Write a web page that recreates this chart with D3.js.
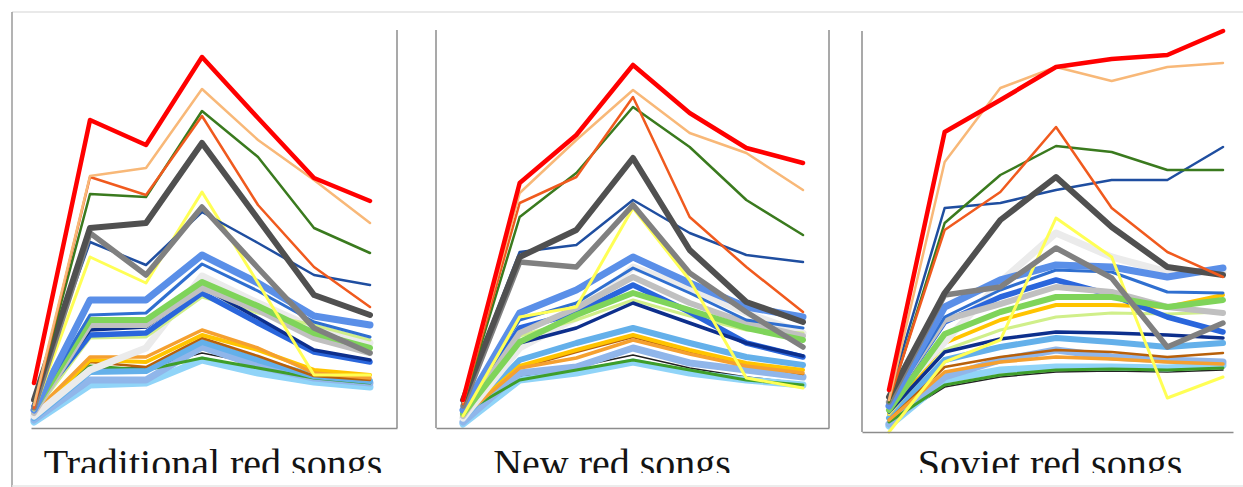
<!DOCTYPE html>
<html lang="en">
<head>
<meta charset="UTF-8">
<title>Red songs</title>
<script src="https://cdn.jsdelivr.net/npm/d3@7"></script>
<style>
  body { margin: 0; background: #fff; }
  svg { display: block; }
</style>
</head>
<body>
<svg id="chart" width="1243" height="487"></svg>
<script>
// seven stages along x, no tick labels shown
const stages = ["1", "2", "3", "4", "5", "6", "7"];

const panelTitles = ["Traditional red songs", "New red songs", "Soviet red songs"];

// series styles (shared by the three panels)
const seriesColors = [
  "#ff0000", "#f8b878", "#f05a1e", "#3a7a1e", "#505050", "#808080",
  "#1f4ea0", "#ffff55", "#5a8fe8", "#2f6fd0", "#7fd45a", "#c0c0c0",
  "#0d2f8c", "#2a66dc", "#d0ef8a", "#ebebeb", "#f5a030", "#ffc400",
  "#b8600a", "#64b0ea", "#3e9e2a", "#90b6ea", "#90d4f8", "#222222"
];
const seriesWidths = [
  4.5, 2.5, 2.5, 2.5, 6, 5.5,
  2.5, 3, 7, 3, 6, 6,
  3.5, 5.5, 3, 7, 3.5, 4,
  2.5, 6, 3, 7, 7, 1.5
];

// values per panel, one row per series
const traditional = [
  [45, 308, 283, 371, 310, 250, 227],
  [23, 252, 260, 339, 288, 248, 205],
  [20, 251, 233, 312, 223, 161, 121],
  [23, 234, 231, 317, 271, 200, 175],
  [28, 200, 205, 285, 209, 133, 113],
  [20, 195, 153, 221, 160, 100, 75],
  [30, 186, 163, 216, 185, 153, 143],
  [18, 171, 145, 236, 145, 53, 53],
  [18, 128, 128, 173, 145, 112, 103],
  [20, 113, 115, 164, 137, 106, 91],
  [18, 108, 108, 146, 122, 95, 80],
  [15, 103, 103, 140, 118, 90, 75],
  [24, 98, 101, 141, 110, 78, 68],
  [22, 93, 95, 135, 105, 76, 66],
  [15, 90, 91, 131, 115, 103, 88],
  [12, 58, 80, 152, 125, 100, 85],
  [15, 71, 71, 98, 80, 55, 50],
  [13, 68, 66, 93, 78, 58, 53],
  [16, 66, 61, 90, 72, 52, 48],
  [10, 56, 57, 86, 68, 52, 47],
  [14, 62, 58, 70, 60, 50, 45],
  [8, 48, 48, 81, 62, 50, 45],
  [6, 43, 45, 68, 55, 46, 41],
  [12, 60, 60, 75, 64, 52, 48]
];

const newSongs = [
  [28, 245, 293, 363, 315, 280, 265],
  [26, 235, 288, 338, 295, 275, 238],
  [24, 225, 251, 331, 211, 161, 116],
  [24, 211, 255, 321, 281, 228, 193],
  [28, 171, 198, 270, 178, 126, 106],
  [22, 166, 161, 223, 155, 116, 81],
  [30, 176, 183, 228, 195, 173, 166],
  [12, 111, 121, 220, 148, 50, 40],
  [18, 115, 138, 171, 145, 121, 111],
  [20, 108, 125, 160, 135, 108, 100],
  [14, 86, 113, 135, 118, 100, 88],
  [12, 95, 120, 151, 125, 105, 92],
  [26, 85, 100, 125, 105, 85, 72],
  [16, 100, 115, 143, 116, 85, 71],
  [12, 92, 108, 128, 112, 98, 95],
  [10, 80, 110, 161, 140, 115, 95],
  [12, 60, 70, 88, 74, 62, 55],
  [12, 62, 78, 93, 78, 65, 58],
  [14, 60, 76, 91, 76, 64, 54],
  [10, 68, 85, 100, 85, 71, 63],
  [15, 48, 58, 68, 58, 48, 43],
  [6, 55, 61, 80, 65, 58, 51],
  [4, 48, 55, 66, 55, 48, 43],
  [16, 51, 61, 73, 60, 51, 45]
];

const soviet = [
  [42, 300, 332, 365, 373, 377, 401],
  [32, 270, 344, 365, 351, 365, 369],
  [32, 202, 240, 305, 224, 180, 155],
  [30, 209, 257, 286, 280, 262, 262],
  [35, 139, 212, 255, 205, 165, 157],
  [30, 137, 145, 184, 154, 85, 109],
  [36, 224, 229, 242, 252, 252, 285],
  [0, 70, 92, 214, 175, 34, 55],
  [26, 125, 152, 167, 165, 155, 164],
  [26, 115, 142, 162, 160, 140, 139],
  [22, 98, 120, 135, 135, 125, 132],
  [30, 112, 128, 145, 140, 125, 119],
  [20, 80, 93, 100, 99, 97, 94],
  [28, 110, 135, 152, 137, 115, 100],
  [18, 82, 102, 115, 119, 118, 120],
  [30, 90, 150, 199, 175, 160, 160],
  [12, 60, 70, 75, 73, 70, 68],
  [18, 89, 112, 127, 127, 125, 137],
  [12, 65, 75, 82, 80, 75, 79],
  [14, 72, 85, 94, 90, 85, 89],
  [10, 47, 57, 62, 63, 62, 64],
  [8, 55, 72, 82, 75, 72, 70],
  [6, 52, 62, 65, 65, 64, 67],
  [10, 45, 55, 60, 61, 60, 62]
];

const svg = d3.select("#chart");

// outer frame of the figure
svg.append("line").attr("x1", 12).attr("x2", 1243).attr("y1", 12).attr("y2", 12)
  .attr("stroke", "#e2e2e2").attr("stroke-width", 1.5);
svg.append("line").attr("x1", 12).attr("x2", 12).attr("y1", 12).attr("y2", 487)
  .attr("stroke", "#9a9a9a").attr("stroke-width", 1.5);
svg.append("line").attr("x1", 12).attr("x2", 1243).attr("y1", 486).attr("y2", 486)
  .attr("stroke", "#e6e6e6").attr("stroke-width", 1.5);

// layout of each panel
const panels = [
  { data: traditional, x0: 34, x1: 370, bottom: 428, top: 30, left: 31, right: 397, showLeft: false, showRight: true, titleX: 213 },
  { data: newSongs, x0: 463, x1: 803, bottom: 428, top: 30, left: 436, right: 829, showLeft: true, showRight: true, titleX: 612 },
  { data: soviet, x0: 889, x1: 1223, bottom: 432, top: 31, left: 862, right: 1233, showLeft: true, showRight: false, titleX: 1050 }
];

svg.append("defs").append("clipPath").attr("id", "titleClip")
  .append("rect").attr("x", 0).attr("y", 0).attr("width", 1243).attr("height", 473);

panels.forEach((p, i) => {
  const x = d3.scalePoint().domain(stages).range([p.x0, p.x1]);
  const y = d3.scaleLinear().domain([0, 400]).range([p.bottom, p.bottom - 400]);

  const line = d3.line()
    .x((d, j) => x(stages[j]))
    .y(d => y(d));

  const g = svg.append("g");

  // draw lowest series first so the top lines sit above
  const order = d3.range(p.data.length).reverse();
  g.selectAll("path.series")
    .data(order)
    .join("path")
    .attr("class", "series")
    .attr("fill", "none")
    .attr("stroke", k => seriesColors[k])
    .attr("stroke-width", k => seriesWidths[k])
    .attr("stroke-linejoin", "round")
    .attr("stroke-linecap", "round")
    .attr("d", k => line(p.data[k]));

  // box lines
  const axisX = d3.scaleLinear().range([p.left, p.right]);
  g.append("g")
    .attr("transform", `translate(0,${p.bottom})`)
    .call(d3.axisBottom(axisX).ticks(0).tickSizeOuter(0))
    .call(a => a.select(".domain").attr("stroke", "#8c8c8c").attr("stroke-width", 1.5));

  if (p.showLeft) {
    g.append("line").attr("x1", p.left).attr("x2", p.left).attr("y1", p.top).attr("y2", p.bottom)
      .attr("stroke", "#8c8c8c").attr("stroke-width", 1.5);
  }
  if (p.showRight) {
    g.append("line").attr("x1", p.right).attr("x2", p.right).attr("y1", p.top).attr("y2", p.bottom)
      .attr("stroke", "#8c8c8c").attr("stroke-width", 1.5);
  }

  svg.append("text")
    .attr("clip-path", "url(#titleClip)")
    .attr("x", p.titleX)
    .attr("y", 477)
    .attr("text-anchor", "middle")
    .attr("font-family", "'Liberation Serif', 'Times New Roman', serif")
    .attr("font-size", 40)
    .attr("fill", "#141414")
    .text(panelTitles[i]);
});
</script>
</body>
</html>
